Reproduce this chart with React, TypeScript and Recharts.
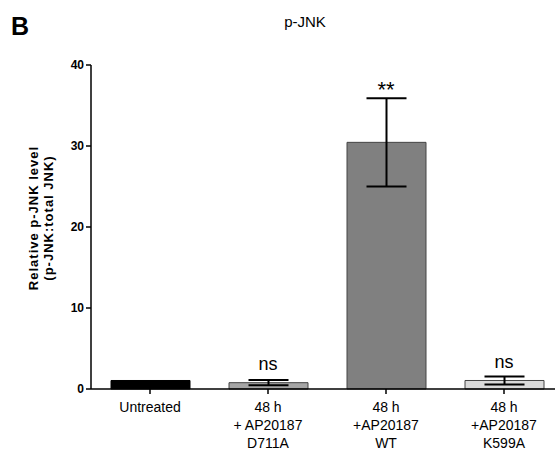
import React from 'react';
import { BarChart, Bar, XAxis, YAxis, ErrorBar, Cell, ReferenceDot } from 'recharts';

const categories = ['Untreated', 'D711A', 'WT', 'K599A'];
const tickLines = [
  ['Untreated'],
  ['48 h', '+ AP20187', 'D711A'],
  ['48 h', '+AP20187', 'WT'],
  ['48 h', '+AP20187', 'K599A'],
];
const means = [1.05, 0.78, 30.45, 1.05];
const errors = [0, 0.33, 5.45, 0.5];
const barColors = ['#000000', '#a6a6a6', '#808080', '#d9d9d9'];
const significance = ['', 'ns', '**', 'ns'];
const sigOffsets = [0, 10, 1, 8];
const yTicks = [0, 10, 20, 30, 40];

const data = categories.map((c, i) => ({ name: c, value: means[i], err: errors[i] }));

const FONT = '"Liberation Sans", Arial, sans-serif';

const XTick = (props: any) => {
  const { x, y, payload } = props;
  const idx = categories.indexOf(payload.value);
  const lines = tickLines[idx] || [];
  return (
    <g transform={`translate(${x},${y})`}>
      {lines.map((l, i) => (
        <text key={i} x={0} y={0} dy={16 + i * 18} textAnchor="middle" fontSize={14} fill="#000" fontFamily={FONT}>
          {l}
        </text>
      ))}
    </g>
  );
};

export default function App() {
  return (
    <div style={{ position: 'absolute', left: 0, top: 0, width: 555, height: 454, overflow: 'hidden', background: '#fff' }}>
      <BarChart
        width={570}
        height={454}
        data={data}
        margin={{ top: 65, right: 7, bottom: 0, left: 31 }}
        barSize={79}
      >
        <XAxis
          dataKey="name"
          height={65}
          axisLine={{ stroke: '#000', strokeWidth: 1.5 }}
          tickLine={{ stroke: '#000', strokeWidth: 1.5 }}
          tickSize={5}
          tick={<XTick />}
          interval={0}
        />
        <YAxis
          width={60}
          domain={[0, 40]}
          ticks={yTicks}
          axisLine={{ stroke: '#000', strokeWidth: 1.5 }}
          tickLine={{ stroke: '#000', strokeWidth: 1.5 }}
          tickSize={5}
          tick={{ fontSize: 12, fontWeight: 'bold', fill: '#000', fontFamily: FONT }}
        />
        <Bar dataKey="value" isAnimationActive={false} stroke="#333" strokeWidth={1}>
          {data.map((d, i) => (
            <Cell key={d.name} fill={barColors[i]} stroke={i === 0 ? '#000' : '#444'} />
          ))}
          <ErrorBar dataKey="err" width={20} stroke="#000" strokeWidth={2} isAnimationActive={false} />
        </Bar>
        {data.map((d, i) =>
          significance[i] ? (
            <ReferenceDot
              key={'sig' + i}
              x={d.name}
              y={d.value + d.err}
              r={0}
              fill="none"
              stroke="none"
              label={{
                value: significance[i],
                position: 'top',
                offset: sigOffsets[i],
                fontSize: significance[i] === '**' ? 22 : 18,
                fill: '#000',
                fontFamily: FONT,
              }}
            />
          ) : null
        )}
      </BarChart>
      <svg width={555} height={454} style={{ position: 'absolute', left: 0, top: 0, pointerEvents: 'none' }}>
        <text x={11} y={35} fontSize={25} fontWeight="bold" fontFamily={FONT} fill="#000">B</text>
        <text x={305} y={27} fontSize={15} textAnchor="middle" fontFamily={FONT} fill="#000">p-JNK</text>
        <g transform="translate(38,218) rotate(-90)">
          <text x={0} y={0} textAnchor="middle" fontSize={13} fontWeight="bold" letterSpacing={1} fontFamily={FONT} fill="#000">
            Relative p-JNK level
          </text>
          <text x={0} y={15} textAnchor="middle" fontSize={13} fontWeight="bold" letterSpacing={1} fontFamily={FONT} fill="#000">
            (p-JNK:total JNK)
          </text>
        </g>
      </svg>
    </div>
  );
}
